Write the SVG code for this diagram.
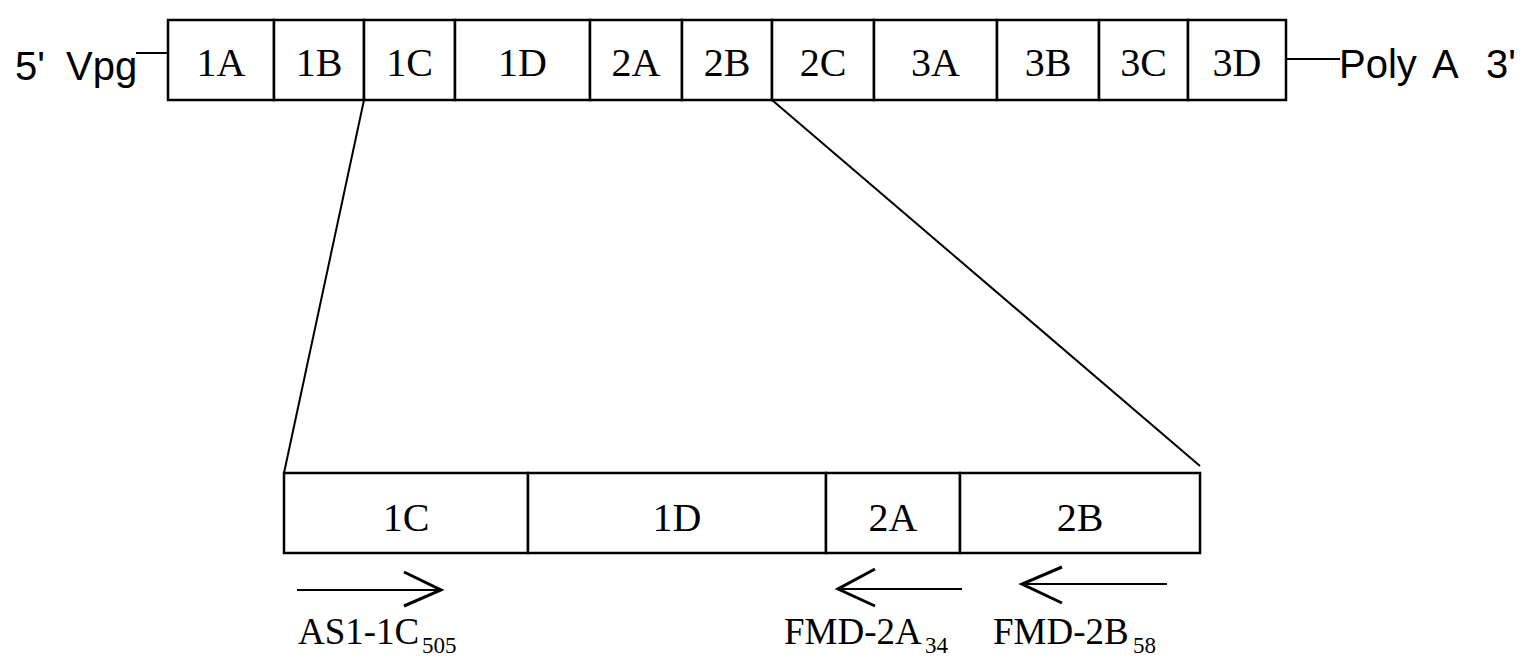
<svg xmlns="http://www.w3.org/2000/svg" width="1539" height="659" viewBox="0 0 1539 659">
<style>
.box{fill:#fff;stroke:#000;stroke-width:2.5}
.ln{fill:none;stroke:#000;stroke-width:2}
.arr{fill:none;stroke:#000;stroke-width:3;stroke-linejoin:miter}
.s{font-family:"Liberation Sans",Arial,sans-serif;font-size:40px;fill:#000}
.t{font-family:"Liberation Serif","Times New Roman",serif;font-size:40px;fill:#000;text-anchor:middle}
.lb{font-family:"Liberation Serif","Times New Roman",serif;font-size:37px;fill:#000}
.sub{font-family:"Liberation Serif","Times New Roman",serif;font-size:23px;fill:#000}
</style>
<rect width="1539" height="659" fill="#fff"/>
<g id="connectors">
<line class="ln" x1="136" y1="53" x2="168" y2="53"/>
<line class="ln" x1="1286" y1="59" x2="1340" y2="59"/>
<line class="ln" x1="364" y1="100" x2="284" y2="473"/>
<line class="ln" x1="772" y1="100" x2="1200" y2="466"/>
</g>
<g id="label-5prime">
<text class="s" x="15" y="80">5'</text>
<text class="s" x="66" y="80">Vpg</text>
</g>
<g id="label-3prime">
<text class="s" x="1339" y="78">Poly</text>
<text class="s" x="1432" y="78">A</text>
<text class="s" x="1486" y="78">3'</text>
</g>
<g id="n-1A"><rect class="box" x="168" y="20" width="106" height="80"/><text class="t" x="221" y="76">1A</text></g>
<g id="n-1B"><rect class="box" x="274" y="20" width="90" height="80"/><text class="t" x="319" y="76">1B</text></g>
<g id="n-1C"><rect class="box" x="364" y="20" width="91" height="80"/><text class="t" x="409.5" y="76">1C</text></g>
<g id="n-1D"><rect class="box" x="455" y="20" width="135" height="80"/><text class="t" x="522.5" y="76">1D</text></g>
<g id="n-2A"><rect class="box" x="590" y="20" width="92" height="80"/><text class="t" x="636" y="76">2A</text></g>
<g id="n-2B"><rect class="box" x="682" y="20" width="90" height="80"/><text class="t" x="727" y="76">2B</text></g>
<g id="n-2C"><rect class="box" x="772" y="20" width="102" height="80"/><text class="t" x="823" y="76">2C</text></g>
<g id="n-3A"><rect class="box" x="874" y="20" width="123" height="80"/><text class="t" x="935.5" y="76">3A</text></g>
<g id="n-3B"><rect class="box" x="997" y="20" width="102" height="80"/><text class="t" x="1048" y="76">3B</text></g>
<g id="n-3C"><rect class="box" x="1099" y="20" width="89" height="80"/><text class="t" x="1143.5" y="76">3C</text></g>
<g id="n-3D"><rect class="box" x="1188" y="20" width="98" height="80"/><text class="t" x="1237" y="76">3D</text></g>
<g id="z-1C"><rect class="box" x="284" y="473" width="244" height="80"/><text class="t" x="406" y="531">1C</text></g>
<g id="z-1D"><rect class="box" x="528" y="473" width="298" height="80"/><text class="t" x="677" y="531">1D</text></g>
<g id="z-2A"><rect class="box" x="826" y="473" width="134" height="80"/><text class="t" x="893" y="531">2A</text></g>
<g id="z-2B"><rect class="box" x="960" y="473" width="240" height="80"/><text class="t" x="1080" y="531">2B</text></g>
<g id="primer-AS1">
<line class="ln" x1="297" y1="590" x2="440" y2="590"/>
<polyline class="arr" points="404,572 441,590 404,606"/>
<text class="lb" x="298" y="644">AS1-1C</text>
<text class="sub" x="422" y="653">505</text>
</g>
<g id="primer-2A">
<line class="ln" x1="839" y1="589" x2="962" y2="589"/>
<polyline class="arr" points="875,569 838,589 875,606"/>
<text class="lb" x="784" y="644">FMD-2A</text>
<text class="sub" x="925" y="653">34</text>
</g>
<g id="primer-2B">
<line class="ln" x1="1023" y1="584" x2="1167" y2="584"/>
<polyline class="arr" points="1062,567 1022,584 1062,603"/>
<text class="lb" x="993" y="644">FMD-2B</text>
<text class="sub" x="1133" y="653">58</text>
</g>
</svg>
